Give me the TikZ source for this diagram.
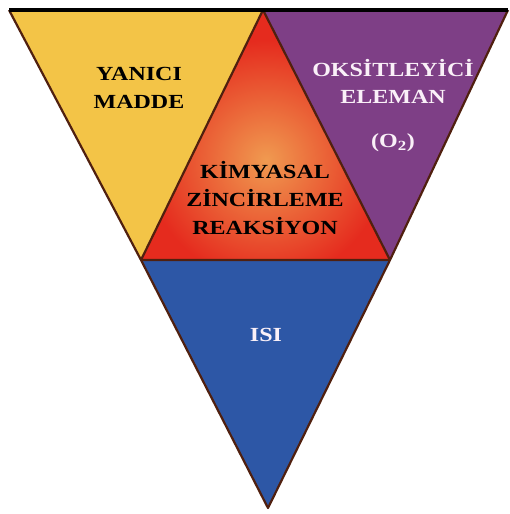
\documentclass[tikz,border=0pt]{standalone}
\usepackage{fontspec}
\setmainfont{Liberation Serif}[FakeStretch=1.2]
\definecolor{FireYellow}{HTML}{F3C447}
\definecolor{FirePurple}{HTML}{7E3F86}
\definecolor{FireRed}{HTML}{E52B1E}
\definecolor{FireGlow}{HTML}{F09A50}
\definecolor{FireBlue}{HTML}{2D57A6}
\definecolor{FireEdge}{HTML}{50200F}
\definecolor{FireWhite}{HTML}{FAF0F8}

\begin{document}
\begin{tikzpicture}[
  x=1pt,y=-1pt,
  part/.style={draw=FireEdge,line width=2.2pt,line join=round},
  darktext/.style={font=\bfseries\fontsize{20}{28}\selectfont,text=black,align=center},
  lighttext/.style={font=\bfseries\fontsize{20}{27}\selectfont,text=FireWhite,align=center}
]
\useasboundingbox (0,0) rectangle (509,514);
\coordinate (topleft) at (9,10);
\coordinate (topright) at (508,10);
\coordinate (apex) at (263,10);
\coordinate (baseleft) at (141,260);
\coordinate (baseright) at (390,260);
\coordinate (bottom) at (268,508);

% the four parts
\fill[FireYellow] (topleft) -- (apex) -- (baseleft) -- cycle;
\fill[FirePurple] (apex) -- (topright) -- (baseright) -- cycle;
\fill[FireBlue] (baseleft) -- (baseright) -- (bottom) -- cycle;
\begin{scope}
  \clip (apex) -- (baseright) -- (baseleft) -- cycle;
  \fill[FireRed] (apex) -- (baseright) -- (baseleft) -- cycle;
  \shade[inner color=FireGlow,outer color=FireRed] (266,160) circle (120);
\end{scope}
\draw[part] (apex) -- (baseright) -- (baseleft) -- cycle;
\draw[part] (topleft) -- (baseleft) -- (bottom) -- (baseright) -- (topright);
\draw[black,line width=3.5pt] (topleft) -- (topright);

% labels
\node[darktext] (fuel) at (139,88) {YANICI\\MADDE};
\node[lighttext] (oxygen) at (393,81) {OKSİTLEYİCİ\\ELEMAN};
\node[lighttext] (formula) at (393,143) {(O\textsubscript{2})};
\node[darktext] (chain) at (265,198) {KİMYASAL\\ZİNCİRLEME\\REAKSİYON};
\node[lighttext] (heat) at (266,335) {ISI};
\end{tikzpicture}
\end{document}
